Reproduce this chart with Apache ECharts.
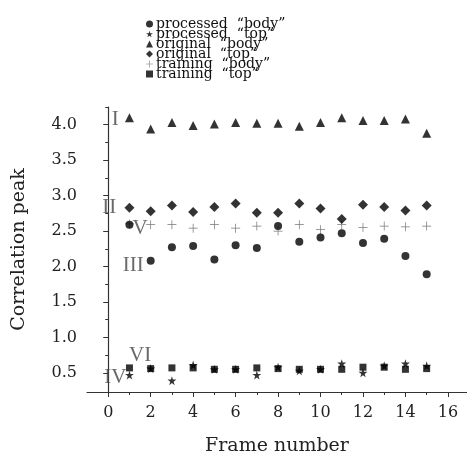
<!DOCTYPE html>
<html>
<head>
<meta charset="utf-8">
<script src="https://cdn.jsdelivr.net/npm/echarts@6/dist/echarts.min.js"></script>
<style>
  html, body { margin: 0; padding: 0; background: #fff; }
  #chart { width: 467px; height: 453px; }
</style>
</head>
<body>
<div id="chart"></div>
<script>
// frame numbers 1..15
const frames = [1, 2, 3, 4, 5, 6, 7, 8, 9, 10, 11, 12, 13, 14, 15];

// values
const processedBody = [2.59, 2.08, 2.27, 2.29, 2.10, 2.30, 2.26, 2.57, 2.35, 2.41, 2.47, 2.33, 2.39, 2.15, 1.89];
const processedTop  = [0.47, 0.56, 0.39, 0.61, 0.55, 0.55, 0.47, 0.58, 0.53, 0.55, 0.63, 0.50, 0.60, 0.63, 0.60];
const originalBody  = [4.10, 3.94, 4.03, 3.99, 4.01, 4.03, 4.02, 4.02, 3.98, 4.03, 4.10, 4.06, 4.06, 4.08, 3.88];
const originalTop   = [2.83, 2.78, 2.86, 2.77, 2.84, 2.89, 2.76, 2.76, 2.89, 2.82, 2.67, 2.87, 2.84, 2.79, 2.86];
const trainingBody  = [2.60, 2.59, 2.59, 2.54, 2.59, 2.54, 2.57, 2.50, 2.59, 2.52, 2.59, 2.55, 2.57, 2.56, 2.57];
const trainingTop   = [0.57, 0.56, 0.57, 0.57, 0.55, 0.55, 0.57, 0.56, 0.55, 0.55, 0.55, 0.58, 0.58, 0.55, 0.56];

const seriesNames = ['processed  \u201cbody\u201d', 'processed  \u201ctop\u201d', 'original  \u201cbody\u201d',
                     'original  \u201ctop\u201d', 'training  \u201cbody\u201d', 'training  \u201ctop\u201d'];

// tick labels
const xLabels = [0, 2, 4, 6, 8, 10, 12, 14, 16];
const xMinor  = [1, 3, 5, 7, 9, 11, 13, 15];
const yLabels = [0.5, 1.0, 1.5, 2.0, 2.5, 3.0, 3.5, 4.0];
const yMinor  = [0.75, 1.25, 1.75, 2.25, 2.75, 3.25, 3.75, 4.25];

// roman numeral annotations, in data coordinates
const notes = [['I', 0.33, 4.08], ['II', 0.05, 2.83], ['III', 1.18, 2.02],
               ['IV', 0.33, 0.43], ['V', 1.5, 2.54], ['VI', 1.5, 0.75]];

const STAR = 'path://M50,0 L61,35 L98,35 L68,57 L79,91 L50,70 L21,91 L32,57 L2,35 L39,35 Z';
const PLUS = 'path://M46,0 H54 V46 H100 V54 H54 V100 H46 V54 H0 V46 H46 Z';

const symbols = ['circle', STAR, 'triangle', 'diamond', PLUS, 'rect'];
const sizes = [8, 9, 9, 10, 9, 7];
const colors = ['#000', '#000', '#000', '#000', '#555', '#000'];
const allData = [processedBody, processedTop, originalBody, originalTop, trainingBody, trainingTop];

const serif = '"DejaVu Serif", serif';
const X_MIN = -1, X_MAX = 16.9, Y_MIN = 0.23, Y_MAX = 4.25;

const chart = echarts.init(document.getElementById('chart'));

const series = allData.map((vals, i) => ({
  name: seriesNames[i],
  type: 'scatter',
  symbol: symbols[i],
  symbolSize: sizes[i],
  itemStyle: { color: colors[i] },
  data: frames.map((f, k) => [f, vals[k]]),
  z: i === 4 ? 1 : 2
}));

series.push({
  name: 'notes',
  type: 'scatter',
  symbolSize: 0,
  silent: true,
  data: notes.map(n => [n[1], n[2], n[0]]),
  label: {
    show: true,
    position: 'inside',
    formatter: p => p.value[2],
    fontFamily: '"Liberation Serif", serif',
    fontSize: 21,
    color: '#444'
  }
});

const option = {
  animation: false,
  backgroundColor: '#fff',
  legend: {
    data: seriesNames.map((n, i) => ({ name: n, icon: symbols[i] })),
    orient: 'vertical',
    left: 141,
    top: 12,
    itemWidth: 7,
    itemHeight: 7,
    itemGap: -4,
    selectedMode: false,
    textStyle: { fontFamily: serif, fontSize: 14, color: '#111', lineHeight: 10, padding: [0, 0, 0, -2] }
  },
  grid: { left: 87, right: 0, top: 107, bottom: 61, outerBoundsMode: 'none', containLabel: false },
  xAxis: [{
    type: 'value',
    min: X_MIN,
    max: X_MAX,
    name: 'Frame number',
    nameLocation: 'middle',
    nameGap: 45,
    nameTextStyle: { fontFamily: serif, fontSize: 19, color: '#222' },
    axisLine: { lineStyle: { color: '#333', width: 1.2 } },
    axisTick: { customValues: xLabels, length: 5, lineStyle: { color: '#333' } },
    axisLabel: { customValues: xLabels, margin: 13, fontFamily: serif, fontSize: 16, color: '#222' },
    splitLine: { show: false }
  }, {
    type: 'value',
    position: 'bottom',
    min: X_MIN,
    max: X_MAX,
    axisLine: { show: false },
    axisTick: { customValues: xMinor, length: 3, lineStyle: { color: '#333' } },
    axisLabel: { show: false },
    splitLine: { show: false }
  }],
  yAxis: [{
    type: 'value',
    min: Y_MIN,
    max: Y_MAX,
    name: 'Correlation peak',
    nameLocation: 'middle',
    nameGap: 58,
    nameTextStyle: { fontFamily: serif, fontSize: 19, color: '#222' },
    axisLine: { show: true, lineStyle: { color: '#333', width: 1.2 } },
    axisTick: { show: true, customValues: yLabels, length: 5, lineStyle: { color: '#333' } },
    axisLabel: { customValues: yLabels, margin: 10, fontFamily: serif, fontSize: 16, color: '#222',
                 formatter: v => v.toFixed(1) },
    splitLine: { show: false }
  }, {
    type: 'value',
    position: 'left',
    min: Y_MIN,
    max: Y_MAX,
    axisLine: { show: false },
    axisTick: { show: true, customValues: yMinor, length: 3, lineStyle: { color: '#333' } },
    axisLabel: { show: false },
    splitLine: { show: false }
  }],
  series: series
};

chart.setOption(option);
</script>
</body>
</html>
